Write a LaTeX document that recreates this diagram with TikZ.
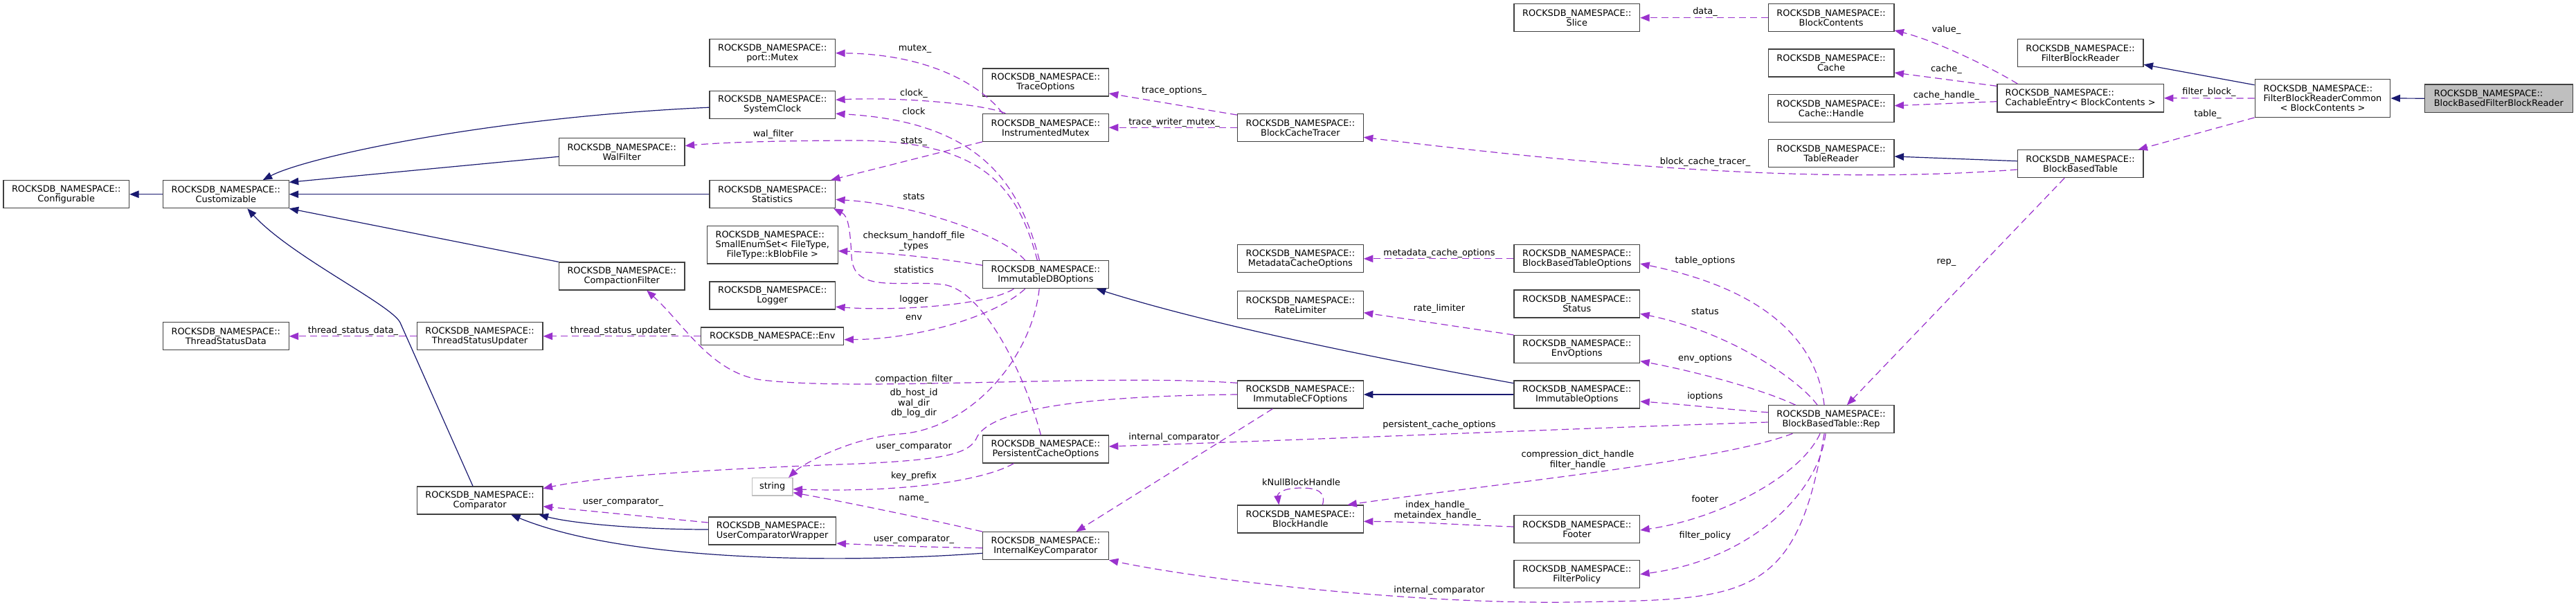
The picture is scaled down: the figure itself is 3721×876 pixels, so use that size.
\documentclass[tikz,border=0pt]{standalone}
\usepackage{fontspec}
\setmainfont{DejaVu Sans}
\usetikzlibrary{arrows.meta}
\definecolor{inhc}{HTML}{191970}
\definecolor{usec}{HTML}{9A32CD}
\definecolor{boxc}{HTML}{404040}
\definecolor{greyc}{HTML}{BFBFBF}
\newcommand\rns{ROCKSDB\_NAMESPACE::}
\begin{document}
\begin{tikzpicture}[x=1pt,y=-1pt,
  cls/.style={draw=boxc, line width=1.2pt, fill=white, rectangle, inner sep=0pt,
    minimum width=181.6pt, minimum height=40pt, align=center,
    font=\fontsize{12.9}{14}\selectfont},
  lbl/.style={inner sep=0pt, align=center, font=\fontsize{12.9}{14.5}\selectfont},
  inh/.style={draw=inhc, line width=1.2pt, -{Triangle[length=13.5pt,width=10.5pt]}},
  use/.style={draw=usec, line width=1.2pt, dash pattern=on 10pt off 6pt,
    -{Triangle[length=13.5pt,width=10.5pt]}},
]
\useasboundingbox (0,0) rectangle (3721,876);

% ---------- nodes ----------
\node[cls] (conf) at (95.7,280.7) {\rns\\Configurable};
\node[cls] (cust) at (326.3,280.7) {\rns\\Customizable};
\node[cls] (tsd) at (326.3,485.8) {\rns\\ThreadStatusData};
\node[cls] (tsu) at (693.1,485.8) {\rns\\ThreadStatusUpdater};
\node[cls] (cmp) at (693.1,723) {\rns\\Comparator};
\node[cls] (mutex) at (1115.7,76.7) {\rns\\port::Mutex};
\node[cls] (sclk) at (1115.7,151.2) {\rns\\SystemClock};
\node[cls] (walf) at (898.2,219.3) {\rns\\WalFilter};
\node[cls] (stat) at (1115.7,280.7) {\rns\\Statistics};
\node[cls, minimum width=189pt, minimum height=54.3pt, align=left] (sesf) at (1115.7,353.8)
  {\rns\\SmallEnumSet< FileType,\\\hspace*{\fill}FileType::kBlobFile >\hspace*{\fill}};
\node[cls] (cflt) at (898.2,399) {\rns\\CompactionFilter};
\node[cls] (logr) at (1115.7,427) {\rns\\Logger};
\node[cls, minimum width=206pt, minimum height=25.7pt] (env) at (1115.7,485.8) {\rns Env};
\node[cls, draw=greyc, minimum width=58.4pt, minimum height=25.3pt] (str) at (1115.7,703.3) {string};
\node[cls, minimum width=184.5pt, align=left] (ucw) at (1115.6,767) {\rns\\UserComparatorWrapper};
\node[cls] (trop) at (1510.4,119) {\rns\\TraceOptions};
\node[cls] (imtx) at (1510.4,184.3) {\rns\\InstrumentedMutex};
\node[cls] (idbo) at (1510.4,396.7) {\rns\\ImmutableDBOptions};
\node[cls] (pco) at (1510.4,649) {\rns\\PersistentCacheOptions};
\node[cls] (ikc) at (1510.4,788.7) {\rns\\InternalKeyComparator};
\node[cls] (bct) at (1878.4,184.3) {\rns\\BlockCacheTracer};
\node[cls] (mco) at (1878.4,373.8) {\rns\\MetadataCacheOptions};
\node[cls] (rlim) at (1878.4,440.5) {\rns\\RateLimiter};
\node[cls] (icfo) at (1878.4,570) {\rns\\ImmutableCFOptions};
\node[cls] (bh) at (1878.4,750) {\rns\\BlockHandle};
\node[cls] (slice) at (2277.8,25.7) {\rns\\Slice};
\node[cls] (bbto) at (2277.8,373.8) {\rns\\BlockBasedTableOptions};
\node[cls] (status) at (2277.8,439) {\rns\\Status};
\node[cls] (envo) at (2277.8,504.5) {\rns\\EnvOptions};
\node[cls] (iopt) at (2277.8,570) {\rns\\ImmutableOptions};
\node[cls] (footer) at (2277.8,764.3) {\rns\\Footer};
\node[cls] (fpol) at (2277.8,829.7) {\rns\\FilterPolicy};
\node[cls] (bc) at (2645.1,25.7) {\rns\\BlockContents};
\node[cls] (cache) at (2645.1,91) {\rns\\Cache};
\node[cls] (ch) at (2645.1,156.3) {\rns\\Cache::Handle};
\node[cls] (tr) at (2645.1,221.7) {\rns\\TableReader};
\node[cls] (rep) at (2645.1,605.8) {\rns\\BlockBasedTable::Rep};
\node[cls] (fbr) at (3005.1,76.7) {\rns\\FilterBlockReader};
\node[cls, minimum width=240.4pt, minimum height=40.3pt, align=left] (ce) at (3005.1,141.8)
  {\rns\\CachableEntry< BlockContents >};
\node[cls] (bbt) at (3005.1,236.7) {\rns\\BlockBasedTable};
\node[cls, minimum width=195.7pt, minimum height=54.6pt, align=left] (fbrc) at (3355,142)
  {\rns\\FilterBlockReaderCommon\\\hspace*{\fill}< BlockContents >\hspace*{\fill}};
\node[cls, fill=greyc, minimum width=213.8pt, minimum height=40.3pt, align=left] (bbfbr) at (3609.3,142.2)
  {\rns\\BlockBasedFilterBlockReader};

% ---------- inheritance ----------
\draw[inh] (cust.west) -- (conf.east);
\draw[inh] ([yshift=-4pt]sclk.west) .. controls (700,170) and (440,228) .. ([xshift=-38pt]cust.north east);
\draw[inh] ([yshift=-7pt]walf.west) -- ([yshift=17.4pt]cust.east);
\draw[inh] (stat.west) -- (cust.east);
\draw[inh] (cflt.north west) -- (cust.south east);
\draw[inh] ([xshift=-10pt]cmp.north) -- (578,466) .. controls (565,440) and (420,370) .. ([xshift=31pt]cust.south);
\draw[inh] ([yshift=2pt]ucw.west) .. controls (930,765) and (830,757) .. ([xshift=-6pt]cmp.south east);
\draw[inh] ([yshift=-10.6pt]ikc.west) .. controls (1200,815) and (900,810) .. ([xshift=45pt]cmp.south);
\draw[inh] ([yshift=-4.3pt]iopt.north west) .. controls (2000,520) and (1750,470) .. ([xshift=-18pt]idbo.south east);
\draw[inh] (iopt.west) -- (icfo.east);
\draw[inh] ([yshift=4pt]bbt.west) -- ([yshift=-4.3pt]tr.east);
\draw[inh] ([yshift=-8.6pt]fbrc.north west) -- ([yshift=-16.6pt]fbr.east);
\draw[inh] (bbfbr.west) -- (fbrc.east);

% ---------- usage ----------
\draw[use] (tsu.west) -- (tsd.east);
\draw[use] (env.west) -- (tsu.east);
\draw[use] ([xshift=-62pt]imtx.north) .. controls (1410,115) and (1330,78) .. (mutex.east);
\draw[use] ([xshift=-58pt]imtx.north) .. controls (1420,150) and (1300,140) .. ([yshift=7pt]sclk.east);
\draw[use] ([xshift=-9pt]idbo.north) .. controls (1470,250) and (1400,175) .. ([yshift=-13pt]sclk.east);
\draw[use] ([xshift=-12pt]idbo.north) .. controls (1470,270) and (1420,205) .. (1240,203)
  .. controls (1150,203) and (1050,205) .. ([yshift=8.6pt]walf.east);
\draw[use] (imtx.south west) -- ([xshift=-7pt]stat.north east);
\draw[use] ([xshift=-29.6pt]idbo.north) .. controls (1450,340) and (1320,295) .. ([yshift=-7.6pt]stat.east);
\draw[use] ([yshift=13.4pt]idbo.west) .. controls (1350,372) and (1280,365) .. ([yshift=-8.9pt]sesf.east);
\draw[use] ([xshift=-7pt]pco.north) .. controls (1480,540) and (1420,418) .. (1362,411)
  .. controls (1300,404) and (1232,425) .. (1230,370)
  .. controls (1228,330) and (1225,312) .. ([xshift=-3pt]stat.south east);
\draw[use] ([xshift=-46pt]idbo.south) .. controls (1430,440) and (1300,450) .. ([yshift=-16.3pt]logr.east);
\draw[use] ([xshift=-29.6pt]idbo.south) .. controls (1440,455) and (1330,490) .. ([yshift=-4.9pt]env.east);
\draw[use] ([yshift=16.7pt]icfo.west) .. controls (1600,540) and (1250,565) .. (1110,550)
  .. controls (1030,545) and (990,470) .. ([xshift=36pt]cflt.south);
\draw[use] ([xshift=-9.2pt]idbo.south) .. controls (1490,520) and (1400,620) .. (1300,627)
  .. controls (1230,632) and (1160,670) .. ([xshift=-6.5pt]str.north east);
\draw[use] (icfo.west) .. controls (1600,572) and (1440,585) .. (1412,630)
  .. controls (1402,655) and (1370,664) .. (1240,670)
  .. controls (1100,675) and (880,685) .. ([yshift=-3.4pt]cmp.north east);
\draw[use] ([xshift=-46pt]pco.south) .. controls (1420,695) and (1300,712) .. ([yshift=-3.4pt]str.east);
\draw[use] (ikc.north west) .. controls (1350,752) and (1220,725) .. ([yshift=-8.4pt]str.east);
\draw[use] ([yshift=-3pt]ikc.west) .. controls (1350,791) and (1250,787) .. ([yshift=-18pt]ucw.east);
\draw[use] ([yshift=12pt]ucw.west) -- ([yshift=-8.7pt]cmp.east);
\draw[use] ([yshift=-2.4pt]bct.north west) -- ([yshift=-16pt]trop.east);
\draw[use] (bct.west) -- (imtx.east);
\draw[use] ([xshift=-40pt]icfo.south) -- ([xshift=44pt]ikc.north);
\draw[use] ([xshift=-10pt]rep.south) .. controls (2595,870) and (2520,866) .. (2268,870)
  .. controls (2050,873) and (1750,840) .. (ikc.south east);
\draw[use] ([yshift=-4.2pt]rep.west) .. controls (2300,618) and (1900,635) .. ([yshift=4pt]pco.east);
\draw[use] ([xshift=35.7pt]rep.south west) .. controls (2480,668) and (2150,700) .. ([xshift=-23.5pt]bh.north east);
\draw[use] ([yshift=3.3pt]footer.west) .. controls (2100,758) and (2050,754) .. ([yshift=-3.3pt]bh.east);
\draw[use] ([xshift=32pt]bh.north) .. controls (1915,712) and (1905,705) .. (1880,705)
  .. controls (1855,705) and (1845,712) .. ([xshift=-31pt]bh.north);
\draw[use] (bbto.west) -- (mco.east);
\draw[use] (envo.north west) -- ([yshift=-11.2pt]rlim.east);
\draw[use] ([xshift=-10pt]rep.north) .. controls (2625,500) and (2560,420) .. ([yshift=-7.2pt]bbto.east);
\draw[use] ([xshift=-20pt]rep.north) .. controls (2600,550) and (2500,480) .. ([yshift=-14.3pt]status.east);
\draw[use] ([xshift=40pt]rep.north west) .. controls (2540,560) and (2440,535) .. ([yshift=-17.2pt]envo.east);
\draw[use] ([yshift=10pt]rep.west) .. controls (2500,592) and (2430,584) .. ([yshift=-10pt]iopt.east);
\draw[use] ([xshift=-16pt]rep.south) .. controls (2600,690) and (2480,750) .. ([yshift=-1.7pt]footer.east);
\draw[use] ([xshift=-8pt]rep.south) .. controls (2625,720) and (2520,810) .. (fpol.east);
\draw[use] ([xshift=-23pt]bbt.south) -- ([xshift=22.8pt]rep.north);
\draw[use] ([yshift=-8.3pt]bbt.west) .. controls (2650,265) and (2350,245) .. ([yshift=-14pt]bct.east);
\draw[use] (bc.west) -- (slice.east);
\draw[use] ([xshift=30pt]ce.north west) .. controls (2880,100) and (2800,60) .. ([yshift=2.4pt]bc.south east);
\draw[use] ([yshift=-3.3pt]ce.north west) -- ([yshift=-14pt]cache.east);
\draw[use] ([yshift=-4.9pt]ce.west) -- ([yshift=3.6pt]ch.east);
\draw[use] (fbrc.west) -- (ce.east);
\draw[use] (fbrc.south west) -- ([xshift=-8pt]bbt.north east);

% ---------- labels ----------
\node[lbl] (L1) at (510,477.7) {thread\_status\_data\_};
\node[lbl] (L2) at (900,477.7) {thread\_status\_updater\_};
\node[lbl] (L3) at (1321.6,70.7) {mutex\_};
\node[lbl] (L4) at (1320,135) {clock\_};
\node[lbl] (L5) at (1320,160.3) {clock};
\node[lbl] (L6) at (1117,194.3) {wal\_filter};
\node[lbl] (L7) at (1320,204.7) {stats\_};
\node[lbl] (L8) at (1320,284.3) {stats};
\node[lbl] (L9) at (1320,348.8) {checksum\_handoff\_file\\\_types};
\node[lbl] (L10) at (1320,389.3) {statistics};
\node[lbl] (L11) at (1320,432.7) {logger};
\node[lbl] (L12) at (1320,459) {env};
\node[lbl] (L13) at (1320,548.3) {compaction\_filter};
\node[lbl] (L14) at (1320,582.7) {db\_host\_id\\wal\_dir\\db\_log\_dir};
\node[lbl] (L15) at (1320,645.7) {user\_comparator};
\node[lbl] (L16) at (1320,688.3) {key\_prefix};
\node[lbl] (L17) at (1320,721.7) {name\_};
\node[lbl] (L18) at (1320,779) {user\_comparator\_};
\node[lbl] (L19) at (900,725.7) {user\_comparator\_};
\node[lbl] (L20) at (1696,130.7) {trace\_options\_};
\node[lbl] (L21) at (1696,176.7) {trace\_writer\_mutex\_};
\node[lbl] (L22) at (1696,632.3) {internal\_comparator};
\node[lbl] (L23) at (2079,614.3) {persistent\_cache\_options};
\node[lbl] (L24) at (2279,664.7) {compression\_dict\_handle\\filter\_handle};
\node[lbl] (L25) at (2076.3,737.7) {index\_handle\_\\metaindex\_handle\_};
\node[lbl] (L26) at (1879.6,696.7) {kNullBlockHandle};
\node[lbl] (L27) at (2079,365.7) {metadata\_cache\_options};
\node[lbl] (L28) at (2079,445.7) {rate\_limiter};
\node[lbl] (L29) at (2079,852.7) {internal\_comparator};
\node[lbl] (L30) at (2462.9,376.7) {table\_options};
\node[lbl] (L31) at (2462.9,450) {status};
\node[lbl] (L32) at (2462.9,517.7) {env\_options};
\node[lbl] (L33) at (2462.9,572.7) {ioptions};
\node[lbl] (L34) at (2462.9,720.3) {footer};
\node[lbl] (L35) at (2462.9,774) {filter\_policy};
\node[lbl] (L36) at (2811.4,379) {rep\_};
\node[lbl] (L37) at (2463,234.3) {block\_cache\_tracer\_};
\node[lbl] (L38) at (2463,17.3) {data\_};
\node[lbl] (L39) at (2811.4,42.7) {value\_};
\node[lbl] (L40) at (2811.4,100) {cache\_};
\node[lbl] (L41) at (2811.4,138) {cache\_handle\_};
\node[lbl] (L42) at (3191,133.3) {filter\_block\_};
\node[lbl] (L43) at (3189,165) {table\_};
\end{tikzpicture}
\end{document}
